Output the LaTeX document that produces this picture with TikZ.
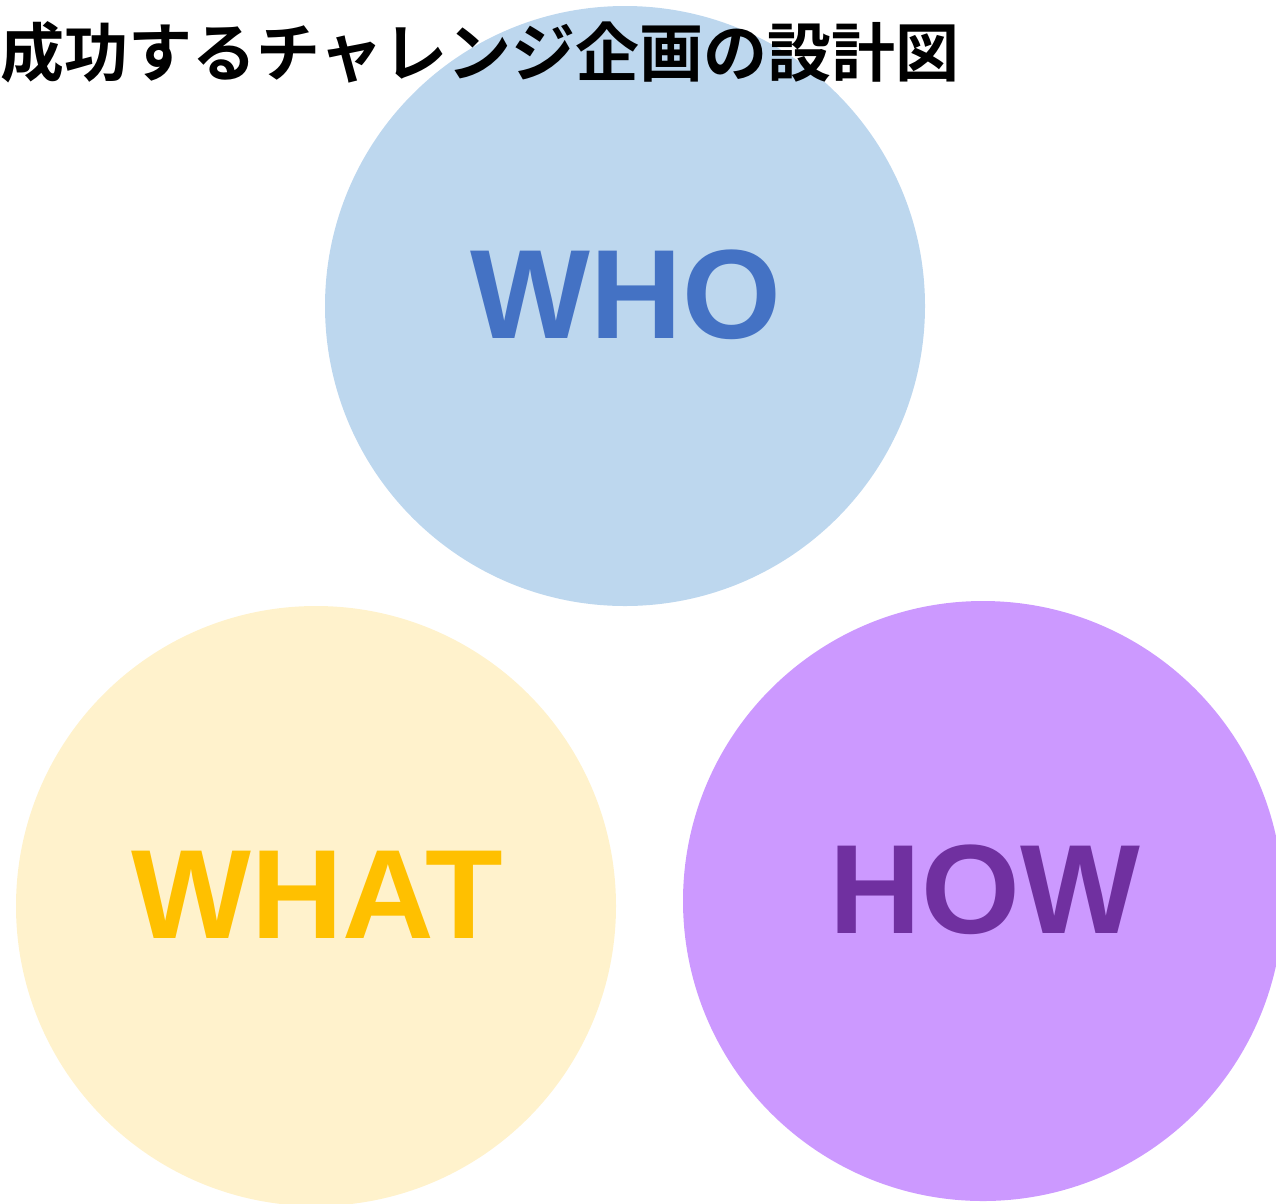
\documentclass[tikz,border=0pt]{standalone}
\usepackage{fontspec}
\setsansfont{Liberation Sans}
\newfontfamily\cjk{Noto Sans CJK JP}[BoldFont={Noto Sans CJK JP Bold}]
\definecolor{whofill}{HTML}{BDD7EE}
\definecolor{whotext}{HTML}{4472C4}
\definecolor{whatfill}{HTML}{FFF2CC}
\definecolor{whattext}{HTML}{FFC000}
\definecolor{howfill}{HTML}{CC99FF}
\definecolor{howtext}{HTML}{7030A0}
\begin{document}
\begin{tikzpicture}[x=1pt,y=-1pt,
  bubble/.style={circle,minimum size=600pt,inner sep=0pt,draw=none},
  biglabel/.style={anchor=base,inner sep=0pt,font=\sffamily\bfseries\fontsize{127}{127}\selectfont}]
\useasboundingbox (0,0) rectangle (1276,1203);
\begin{scope}
\clip (0,0) rectangle (1276,1203);
\node[bubble,fill=whofill] (who) at (625,306) {};
\node[bubble,fill=whatfill] (what) at (316,906) {};
\node[bubble,fill=howfill] (how) at (983,901) {};
\end{scope}
\node[biglabel,text=whotext] (wholbl) at (626,338) {WHO};
\node[biglabel,text=whattext] (whatlbl) at (317,938) {WHAT};
\node[biglabel,text=howtext] (howlbl) at (985,933) {HOW};
\node[anchor=west,inner sep=0pt,font=\cjk\bfseries\fontsize{64}{64}\selectfont] (title) at (0,52) {成功するチャレンジ企画の設計図};
\end{tikzpicture}
\end{document}
